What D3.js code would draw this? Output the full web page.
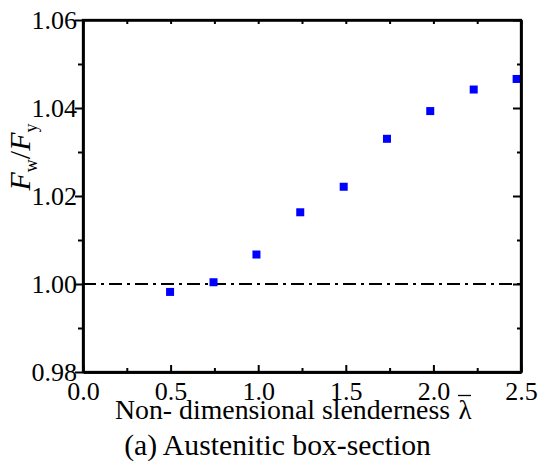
<!DOCTYPE html>
<html><head><meta charset="utf-8">
<script src="https://cdn.jsdelivr.net/npm/d3@7"></script>
<style>body{margin:0;background:#fff}svg{display:block}</style>
</head><body>
<script>
const lambda = [0.497, 0.745, 0.99, 1.24, 1.488, 1.735, 1.982, 2.23, 2.475];
const ratio = [0.9982, 1.0004, 1.0067, 1.0163, 1.0221, 1.0330, 1.0393, 1.0442, 1.0466];
const xTicks = [0.0, 0.5, 1.0, 1.5, 2.0, 2.5];
const yTicks = [0.98, 1.00, 1.02, 1.04, 1.06];
const xMinor = [0.25, 0.75, 1.25, 1.75, 2.25];
const yMinor = [0.99, 1.01, 1.03, 1.05];
const refLine = 1.00;

(function(){
const FONT = '"Liberation Serif"';
const W = 539, H = 464;
const m = {l: 83, r: 18, t: 20, b: 92};
const svg = d3.select("body").append("svg").attr("width", W).attr("height", H);
const x = d3.scaleLinear().domain([0, 2.5]).range([m.l, W - m.r]);
const y = d3.scaleLinear().domain([0.98, 1.06]).range([H - m.b, m.t]);
const fmt = d3.format(".2f"), fmtx = d3.format(".1f");

svg.append("line").attr("x1", x(0)).attr("x2", x(2.5)).attr("y1", y(refLine)).attr("y2", y(refLine))
  .attr("stroke", "#000").attr("stroke-width", 2).attr("stroke-dasharray", "13,5,3,5");

svg.selectAll("rect.pt").data(lambda).join("rect").attr("class", "pt")
  .attr("x", (d) => x(d) - 4).attr("y", (d, i) => y(ratio[i]) - 4)
  .attr("width", 8).attr("height", 8).attr("fill", "#0000ff");

const gB = svg.append("g").attr("transform", `translate(0,${y(0.98)})`)
  .call(d3.axisBottom(x).tickValues(xTicks).tickSizeInner(-7).tickSizeOuter(0).tickFormat(fmtx));
const gBm = svg.append("g").attr("transform", `translate(0,${y(0.98)})`)
  .call(d3.axisBottom(x).tickValues(xMinor).tickSizeInner(-4).tickSizeOuter(0).tickFormat(""));
const gT = svg.append("g").attr("transform", `translate(0,${y(1.06)})`)
  .call(d3.axisTop(x).tickValues(xTicks.concat(xMinor)).tickSizeInner(-4).tickSizeOuter(0).tickFormat(""));
const gL = svg.append("g").attr("transform", `translate(${x(0)},0)`)
  .call(d3.axisLeft(y).tickValues(yTicks).tickSizeInner(8).tickSizeOuter(0).tickFormat(fmt));
const gLm = svg.append("g").attr("transform", `translate(${x(0)},0)`)
  .call(d3.axisLeft(y).tickValues(yMinor).tickSizeInner(5).tickSizeOuter(0).tickFormat(""));
const gR = svg.append("g").attr("transform", `translate(${x(2.5)},0)`)
  .call(d3.axisRight(y).tickValues(yTicks).tickSizeInner(-8).tickSizeOuter(0).tickFormat(""));
const gRm = svg.append("g").attr("transform", `translate(${x(2.5)},0)`)
  .call(d3.axisRight(y).tickValues(yMinor).tickSizeInner(-4).tickSizeOuter(0).tickFormat(""));

[gB, gBm, gT, gL, gLm, gR, gRm].forEach(g => {
  g.selectAll("path").attr("stroke", "#000").attr("stroke-width", 2.3);
  g.selectAll("line").attr("stroke", "#000").attr("stroke-width", 2);
  g.selectAll("text").style("font-family", FONT).style("font-size", "26px").attr("fill", "#000");
});
gB.selectAll(".tick text").attr("dy", null).attr("y", 28);
gL.selectAll(".tick text").attr("x", -6).attr("dy", "0.33em");

svg.append("rect").attr("x", x(0)).attr("y", y(1.06)).attr("width", x(2.5) - x(0)).attr("height", y(0.98) - y(1.06))
  .attr("fill", "none").attr("stroke", "#000").attr("stroke-width", 2.3);

const txt = (s, px) => svg.append("text").style("font-family", FONT).style("font-size", px + "px").attr("fill", "#000").text(s);

txt("Non- dimensional slenderness", 27.8).attr("x", 115).attr("y", 419);
txt("λ", 27).attr("x", 465).attr("y", 419).attr("text-anchor", "middle");
svg.append("line").attr("x1", 458).attr("x2", 471).attr("y1", 395.5).attr("y2", 395.5).attr("stroke", "#000").attr("stroke-width", 1.3);

txt("(a) Austenitic box-section", 29.7).attr("x", 277.5).attr("y", 455).attr("text-anchor", "middle");

const yt = svg.append("text").attr("transform", "translate(30,157) rotate(-90)").attr("text-anchor", "middle")
  .style("font-family", FONT).style("font-size", "30px").attr("fill", "#000");
yt.append("tspan").style("font-style", "italic").text("F");
yt.append("tspan").style("font-size", "18px").attr("dy", 7).text("w");
yt.append("tspan").attr("dy", -7).text("/");
yt.append("tspan").style("font-style", "italic").text("F");
yt.append("tspan").style("font-size", "18px").attr("dy", 7).text("y");
})();
</script>
</body></html>
